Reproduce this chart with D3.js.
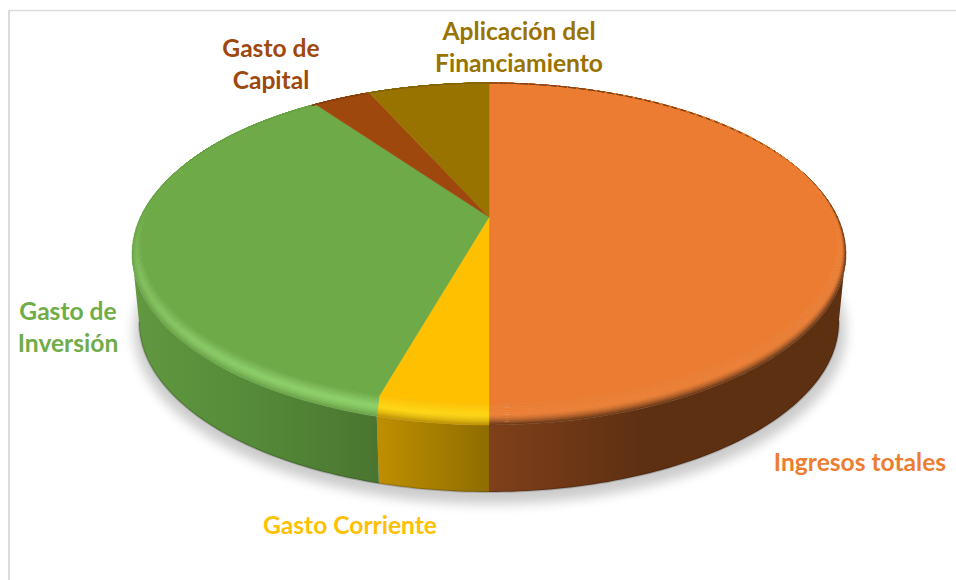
<!DOCTYPE html>
<html>
<head>
<meta charset="utf-8">
<script src="https://cdn.jsdelivr.net/npm/d3@7"></script>
<style>
  html, body { margin: 0; padding: 0; background: #fff; }
  svg { display: block; }
</style>
</head>
<body>
<div id="chart"></div>
<script>
// --- Data (% of the pie) ---
const categories = ["Ingresos totales", "Gasto Corriente", "Gasto de Inversión", "Gasto de Capital", "Aplicación del Financiamiento"];
const values = [50, 4.1, 35.7, 3.3, 6.9];
const labelLines = [["Ingresos totales"], ["Gasto Corriente"], ["Gasto de", "Inversión"], ["Gasto de", "Capital"], ["Aplicación del", "Financiamiento"]];

// --- Styles ---
const faceColors = ["#eb7c31", "#ffc000", "#6eaa48", "#9e480e", "#997300"];
const labelColors = ["#ed7d31", "#ffc000", "#70ad47", "#9e480e", "#997300"];
const highlightColors = ["#f28c42", "#ffd814", "#8ed36a", "#9e480e", "#997300"];
const highlightStrength = [0.25, 1, 1, 0, 0];
const edgeDarkness = [0.97, 0.6, 0.3, 0.5, 0.5];
const sideStops = [
  [["#7f401a", 0], ["#5e3012", 0.42], ["#5e3012", 1]],
  [["#c08f00", 0], ["#8e6d00", 1]],
  [["#619840", 0], ["#558a38", 0.5], ["#4a7530", 1]],
  [["#5e3012", 0], ["#5e3012", 1]],
  [["#5e4600", 0], ["#5e4600", 1]]
];
const labelPos = [[860, 471], [350, 534], [68, 320], [271, 57], [519, 40]];

const width = 956;
const height = 580;
const lineGap = 32;

// top rim, inner edge of the bevel and bottom rim of the disc
const outer = { cx: 489, cy: 254, rx: 357, ry: 171 };
const inner = { cx: 489, cy: 243.5, rx: 349, ry: 160.5 };
const bottom = { cx: 489, cy: 322, rx: 350, ry: 170 };
const apex = { x: 489, y: 217 };

// perspective: circle angle -> point on the unit ellipse, seen from above
const k = -0.2164;
const px = 348.5;
const py = 163;

function unit(a) {
  const v = -Math.cos(a);
  const w = 1 + k * v;
  const x = px * Math.sin(a) / w;
  const y = apex.y + py * v / w;
  return { ex: x / outer.rx, ey: (y - outer.cy) / outer.ry };
}

function onRing(ring, a) {
  const u = unit(a);
  return [ring.cx + ring.rx * u.ex, ring.cy + ring.ry * u.ey];
}

function between(t, a) {
  const p = onRing(inner, a);
  const q = onRing(outer, a);
  return [p[0] + (q[0] - p[0]) * t, p[1] + (q[1] - p[1]) * t];
}

function anglesOf(d, step) {
  const n = Math.max(1, Math.ceil((d.endAngle - d.startAngle) / step));
  return d3.range(n + 1).map(i => d.startAngle + (d.endAngle - d.startAngle) * i / n);
}

const pie = d3.pie().sort(null).value(d => d)
  .startAngle(0).endAngle(2 * Math.PI);
const arcs = pie(values);

const line = d3.line();

const svg = d3.select("#chart").append("svg")
  .attr("width", width)
  .attr("height", height)
  .attr("viewBox", [0, 0, width, height]);

const defs = svg.append("defs");
defs.append("filter")
  .attr("id", "soft")
  .attr("x", "-10%").attr("y", "-10%").attr("width", "120%").attr("height", "120%")
  .append("feGaussianBlur").attr("stdDeviation", 6);

// frame of the pasted picture
svg.append("line").attr("x1", 9).attr("x2", 9).attr("y1", 10).attr("y2", height)
  .attr("stroke", "#dcdcdc").attr("stroke-width", 2);
svg.append("line").attr("x1", 8).attr("x2", width).attr("y1", 10.5).attr("y2", 10.5)
  .attr("stroke", "#dcdcdc").attr("stroke-width", 1.5);

// --- Shadow ---
svg.append("ellipse")
  .attr("cx", bottom.cx + 1)
  .attr("cy", bottom.cy + 9)
  .attr("rx", bottom.rx + 6)
  .attr("ry", bottom.ry + 3)
  .attr("fill", "#000")
  .attr("opacity", 0.2)
  .attr("filter", "url(#soft)");

// --- Side wall ---
const step = Math.PI / 180;
const sideG = svg.append("g").attr("class", "sides");

arcs.forEach((d, i) => {
  const angles = anglesOf(d, step).filter(a => unit(a).ey >= -0.01);
  if (angles.length < 2) return;

  const top = angles.map(a => onRing(outer, a));
  const low = angles.map(a => onRing(bottom, a));
  const xs = top.concat(low).map(p => p[0]);

  const grad = defs.append("linearGradient")
    .attr("id", "side" + i)
    .attr("gradientUnits", "userSpaceOnUse")
    .attr("x1", d3.min(xs)).attr("x2", d3.max(xs))
    .attr("y1", 0).attr("y2", 0);
  grad.selectAll("stop").data(sideStops[i]).join("stop")
    .attr("offset", s => s[1])
    .attr("stop-color", s => s[0]);

  sideG.append("path")
    .attr("d", line(top.concat(low.slice().reverse())) + "Z")
    .attr("fill", `url(#side${i})`);

  // darker line along the lower edge
  sideG.append("path")
    .attr("d", line(low))
    .attr("fill", "none")
    .attr("stroke", "#000")
    .attr("stroke-opacity", 0.18)
    .attr("stroke-width", 2);
});

// --- Top face ---
const faceG = svg.append("g").attr("class", "faces");

arcs.forEach((d, i) => {
  const rim = anglesOf(d, step).map(a => onRing(inner, a));
  faceG.append("path")
    .attr("d", line([[apex.x, apex.y]].concat(rim)) + "Z")
    .attr("fill", faceColors[i])
    .attr("stroke", faceColors[i])
    .attr("stroke-width", 0.5);
});

// --- Bevel: small quads between inner edge and rim ---
const rings = 12;
const bevelG = svg.append("g").attr("class", "bevel");

function bevelColor(i, t, a) {
  const u = unit(a);
  const lit = Math.max(0, Math.min(1, 0.9 * u.ey - 0.3 * u.ex)) * highlightStrength[i];
  const peak = d3.interpolateRgb(faceColors[i], highlightColors[i])(lit);
  const stops = sideStops[i];
  const dark = stops[Math.floor(stops.length / 2)][0];
  const edge = d3.interpolateRgb(faceColors[i], dark)(edgeDarkness[i]);
  if (t < 0.5) return d3.interpolateRgb(faceColors[i], peak)(t / 0.5);
  return d3.interpolateRgb(peak, edge)(Math.pow((t - 0.5) / 0.5, 1.6));
}

arcs.forEach((d, i) => {
  const angles = anglesOf(d, 2 * step);
  d3.range(angles.length - 1).forEach(j => {
    const a0 = angles[j];
    const a1 = angles[j + 1];
    d3.range(rings).forEach(r => {
      const t0 = r / rings;
      const t1 = (r + 1) / rings;
      const c = bevelColor(i, (t0 + t1) / 2, (a0 + a1) / 2);
      bevelG.append("path")
        .attr("d", line([between(t0, a0), between(t0, a1), between(t1, a1), between(t1, a0)]) + "Z")
        .attr("fill", c)
        .attr("stroke", c)
        .attr("stroke-width", 0.5);
    });
  });
});

// --- Labels ---
const labelG = svg.append("g").attr("class", "labels")
  .attr("font-family", "Lato, 'Open Sans', sans-serif")
  .attr("font-weight", 700)
  .attr("font-size", "24.6px")
  .attr("text-anchor", "middle");

categories.forEach((name, i) => {
  const text = labelG.append("text")
    .attr("x", labelPos[i][0])
    .attr("y", labelPos[i][1])
    .attr("fill", labelColors[i]);
  labelLines[i].forEach((s, n) => {
    text.append("tspan")
      .attr("x", labelPos[i][0])
      .attr("dy", n === 0 ? 0 : lineGap)
      .text(s);
  });
});
</script>
</body>
</html>
